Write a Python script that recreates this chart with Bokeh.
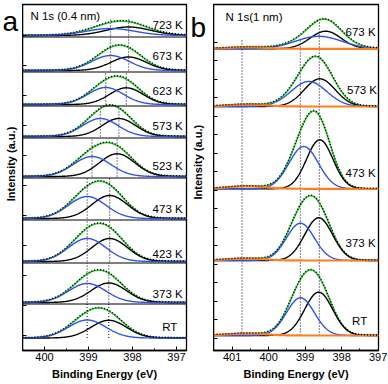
import numpy as np
from bokeh.plotting import figure
from bokeh.models import Range1d, FixedTicker, Span
from bokeh.layouts import row
from bokeh.embed import file_html
from bokeh.resources import INLINE
from bokeh.core.properties import value

# ---------------- data: panel a, N 1s (0.4 nm) ----------------
a_labels = ["723 K", "673 K", "623 K", "573 K", "523 K", "473 K", "423 K", "373 K", "RT"]
a_blue_center = [398.50, 398.50, 398.61, 398.73, 398.92, 399.03, 399.03, 399.03, 399.03]
a_blue_height = [7.0, 15.0, 17.0, 18.0, 20.0, 22.0, 23.0, 19.0, 18.0]
a_blue_fwhm = [1.30, 1.00, 0.95, 0.95, 1.00, 1.00, 1.00, 1.00, 1.00]
a_black_center = [398.09, 398.09, 398.14, 398.31, 398.35, 398.52, 398.52, 398.54, 398.54]
a_black_height = [8.5, 13.5, 16.7, 18.0, 22.7, 23.0, 23.0, 19.5, 17.7]
a_black_fwhm = [1.20, 0.95, 0.90, 0.90, 0.95, 0.95, 0.95, 0.95, 0.95]
a_xticks = [400, 399, 398, 397]

# ---------------- data: panel b, N 1s (1 nm) ----------------
b_labels = ["673 K", "573 K", "473 K", "373 K", "RT"]
b_blue_center = [398.63, 398.90, 399.04, 399.13, 399.13]
b_blue_height = [12.5, 25.0, 42.3, 37.3, 37.7]
b_blue_fwhm = [1.50, 1.15, 0.95, 0.90, 0.90]
b_black_center = [398.44, 398.60, 398.60, 398.63, 398.63]
b_black_height = [17.6, 27.7, 49.0, 42.7, 43.3]
b_black_fwhm = [1.00, 1.00, 0.85, 0.90, 0.90]
b_orange_center = [400.60, 400.60, 400.60, 400.60, 400.60]
b_orange_height = [1.5, 2.0, 2.5, 2.0, 2.0]
b_orange_fwhm = [1.2, 1.2, 1.2, 1.2, 1.2]
b_ref_lines = [400.73, 399.13, 398.61]
b_xticks = [401, 400, 399, 398, 397]

# ---------------- layout (screen px of baselines etc.) ----------------
FRAME_BOTTOM = 350
a_base_px = [35, 70, 104, 136, 176, 218, 261, 302, 337.5]
a_sep_px = [36.5, 71.5, 105.5, 137.5, 177.5, 219.5, 262.5, 303.5]
a_label_px = [24, 55, 90.7, 125, 165, 208, 253.3, 293.3, 326.7]
a_label_x = [396.86] * 8 + [396.98]
b_base_px = [48.3, 106, 188.3, 260, 335]
b_label_px = [31.7, 89.3, 172.7, 242, 320]
b_label_x = [397.07, 397.03, 397.07, 397.07, 397.30]

GREEN = "#35cc35"
BLUE = "#2f4ff0"
ORANGE = "#ff7f20"
DOTV = "#2a2a48"
FONT = "Liberation Sans"


def yv(px):
    return FRAME_BOTTOM - px


def gauss(x, c, h, w):
    return h * np.exp(-4 * np.log(2) * (x - c) ** 2 / w ** 2)


def strip(width, letter, lx, ly, ylab_x, ylab_y):
    s = figure(width=width, height=384, output_backend="svg", toolbar_location=None,
               x_range=Range1d(0, width), y_range=Range1d(384, 0),
               x_axis_type=None, y_axis_type=None,
               min_border_left=0, min_border_right=0, min_border_top=0, min_border_bottom=0)
    s.xgrid.visible = False
    s.ygrid.visible = False
    s.outline_line_color = None
    s.background_fill_color = "white"
    s.border_fill_color = "white"
    s.text(x=[lx], y=[ly], text=[letter], text_font=value(FONT), text_font_size="28px",
           text_align="left", text_baseline="alphabetic", text_color="black")
    s.text(x=[ylab_x], y=[ylab_y], text=["Intensity (a.u.)"], angle=np.pi / 2,
           text_font=value(FONT), text_font_size="11px", text_font_style="bold",
           text_align="center", text_baseline="middle", text_color="black")
    return s


def base_fig(width, br, xr, yticks):
    p = figure(width=width, height=384, output_backend="svg", toolbar_location=None,
               x_range=Range1d(*xr), y_range=Range1d(0, 346),
               min_border_left=0, min_border_right=br, min_border_top=4, min_border_bottom=34)
    p.xgrid.visible = False
    p.ygrid.visible = False
    p.outline_line_color = "black"
    p.outline_line_width = 1.3
    p.background_fill_color = "white"
    p.border_fill_color = "white"
    for ax in (p.xaxis[0], p.yaxis[0]):
        ax.axis_line_color = "black"
        ax.axis_line_width = 1.3
        ax.major_tick_out = 0
        ax.minor_tick_out = 0
        ax.major_tick_line_color = "black"
        ax.minor_tick_line_color = "black"
    p.xaxis.major_tick_in = 4
    p.xaxis.minor_tick_in = 2
    p.xaxis.major_label_text_font = FONT
    p.xaxis.major_label_text_font_size = "11px"
    p.xaxis.major_label_text_color = "black"
    p.xaxis.major_label_standoff = 2
    p.xaxis.axis_label = "Binding Energy (eV)"
    p.xaxis.axis_label_text_font = FONT
    p.xaxis.axis_label_text_font_size = "11px"
    p.xaxis.axis_label_text_font_style = "bold"
    p.xaxis.axis_label_text_color = "black"
    p.xaxis.axis_label_standoff = 4
    p.yaxis.ticker = FixedTicker(ticks=yticks)
    p.yaxis.major_tick_in = 4
    p.yaxis.minor_tick_line_color = None
    p.yaxis.major_label_overrides = {t: "" for t in yticks}
    p.yaxis.major_label_standoff = 0
    return p


# ---------------- panel a ----------------
sa = strip(22, "a", 2, 18.5, 10, 177)
pa = base_fig(168, 4, (400.5, 396.773), [float(yv(35 + 30 * k)) for k in range(11)])
pa.xaxis.ticker = FixedTicker(ticks=a_xticks, minor_ticks=[400.5, 399.5, 398.5, 397.5, 396.5])
xa = np.linspace(400.5, 396.773, 300)

for s in a_sep_px:
    pa.add_layout(Span(location=yv(s), dimension="width", line_color="black", line_width=1.2))

tops_a = [17] + a_sep_px
for i in range(len(a_labels)):
    b0 = yv(a_base_px[i])
    bl = gauss(xa, a_blue_center[i], a_blue_height[i], a_blue_fwhm[i])
    bk = gauss(xa, a_black_center[i], a_black_height[i], a_black_fwhm[i])
    tot = bl + bk
    pa.segment(x0=[a_blue_center[i], a_black_center[i]], y0=[b0, b0],
               x1=[a_blue_center[i], a_black_center[i]], y1=[yv(tops_a[i])] * 2,
               line_color=DOTV, line_width=1.2, line_dash="1 2")
    pa.line(xa, b0 + tot, line_color=GREEN, line_width=1.6)
    pa.line(xa, b0 + bk, line_color="black", line_width=1.4)
    pa.line(xa, b0 + bl, line_color=BLUE, line_width=1.4)
    pa.line(xa, b0 + tot + 0.6, line_color="black", line_width=1.5, line_dash="1 2")

pa.text(x=a_label_x, y=[yv(v) for v in a_label_px], text=a_labels, text_font=value(FONT),
        text_font_size="11.5px", text_align="right", text_baseline="middle", text_color="black")
pa.text(x=[400.32], y=[yv(15)], text=["N 1s (0.4 nm)"], text_font=value(FONT),
        text_font_size="11.5px", text_align="left", text_baseline="middle", text_color="black")

# ---------------- panel b ----------------
sb = strip(23, "b", 0, 25, 7, 175)
pb = base_fig(175, 10, (401.512, 396.99), [float(yv(41.7 + 18.5 * k)) for k in range(17)])
pb.xaxis.ticker = FixedTicker(ticks=b_xticks, minor_ticks=[401.5, 400.5, 399.5, 398.5, 397.5])
xb = np.linspace(401.512, 396.99, 300)

pb.segment(x0=b_ref_lines, y0=[yv(335)] * 3, x1=b_ref_lines, y1=[yv(40), yv(40), yv(20)],
           line_color=DOTV, line_width=1.2, line_dash="1 2")

for i in range(len(b_labels)):
    b0 = yv(b_base_px[i])
    bl = gauss(xb, b_blue_center[i], b_blue_height[i], b_blue_fwhm[i])
    bk = gauss(xb, b_black_center[i], b_black_height[i], b_black_fwhm[i])
    orr = gauss(xb, b_orange_center[i], b_orange_height[i], b_orange_fwhm[i])
    tot = bl + bk + orr
    pb.line(xb, b0 + tot, line_color=GREEN, line_width=1.6)
    pb.line(xb, b0 + bk, line_color="black", line_width=1.4)
    pb.line(xb, b0 + bl, line_color=BLUE, line_width=1.4)
    pb.line(xb, b0 + orr, line_color=ORANGE, line_width=2.2)
    pb.line(xb, b0 + tot + 0.6, line_color="black", line_width=1.5, line_dash="1 2")

pb.text(x=b_label_x, y=[yv(v) for v in b_label_px], text=b_labels, text_font=value(FONT),
        text_font_size="11.5px", text_align="right", text_baseline="middle", text_color="black")
pb.text(x=[401.18], y=[yv(16.7)], text=["N 1s(1 nm)"], text_font=value(FONT),
        text_font_size="11.5px", text_align="left", text_baseline="middle", text_color="black")

layout = row(sa, pa, sb, pb, spacing=0)
open("out.html", "w").write(file_html(layout, INLINE))
